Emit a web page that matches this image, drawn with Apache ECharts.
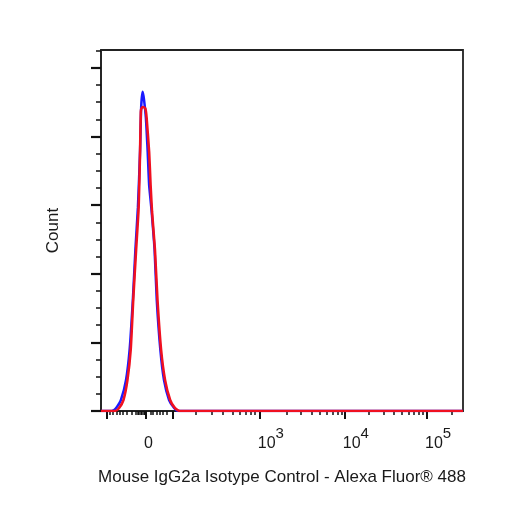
<!DOCTYPE html>
<html>
<head>
<meta charset="utf-8">
<script src="https://cdn.jsdelivr.net/npm/echarts@6/dist/echarts.min.js"></script>
<style>html,body{margin:0;padding:0;background:#fff}#c{width:506px;height:506px}</style>
</head>
<body>
<div id="c"></div>
<script>
// x values are display channels of the biexponential axis (0..1000)
const blueX = [0, 25, 36, 44, 55, 69, 79, 88, 95, 102, 108, 111, 115, 119, 124, 129, 133, 137, 140, 148, 154, 164, 174, 188, 202, 213, 1000];
const blueY = [0, 0, 1.5, 6, 16, 45, 89, 162, 235, 297, 380, 443, 465, 453, 427, 377, 329, 307, 290, 235, 162, 89, 45, 16, 4.4, 0, 0];
const redX = [0, 30, 39, 50, 62, 73, 82, 89, 97, 104, 108, 110, 112, 116, 122, 124, 126, 133, 137, 141, 149, 156, 166, 177, 191, 204, 218, 1000];
const redY = [0, 0, 0, 4.4, 16, 45, 89, 162, 235, 297, 380, 436, 441, 443, 441, 437, 427, 377, 329, 290, 235, 162, 89, 45, 16, 4.4, 0, 0];

const xMajorTicks = [17, 124, 199, 439, 674, 901];
const xMinorTicks = [25, 33, 44, 52, 61, 72, 86, 97, 101, 105, 109, 113, 117, 121, 138, 144, 155, 163, 171, 182,
  262, 307, 337, 365, 384, 401, 414, 425,
  512, 553, 583, 605, 624, 639, 653, 665,
  741, 782, 810, 832, 850, 865, 879, 890, 970];
const xLabelPos = [119, 433, 668, 895];
const xLabelBase = ['0', '10', '10', '10'];
const xLabelExp = ['', '3', '4', '5'];

const yMajorTicks = [0, 100, 200, 300, 400, 500];
const yMinorTicks = [25, 50, 75, 125, 150, 175, 225, 250, 275, 325, 350, 375, 425, 450, 475, 500, 525];

const xTitle = 'Mouse IgG2a Isotype Control - Alexa Fluor® 488';
const yTitle = 'Count';

const FONT = "'Liberation Sans', Arial, sans-serif";
const chart = echarts.init(document.getElementById('c'));
const pairs = (xs, ys) => xs.map((x, i) => [x, ys[i]]);

chart.setOption({
  animation: false,
  grid: { left: 101, top: 50, width: 362, height: 361, show: true, borderColor: '#222', borderWidth: 1.8, backgroundColor: '#fff' },
  xAxis: [
    {
      type: 'value', min: 0, max: 1000, position: 'bottom',
      name: xTitle, nameLocation: 'middle', nameGap: 58,
      nameTextStyle: { fontFamily: FONT, fontSize: 17, color: '#1a1a1a' },
      axisLine: { show: true, lineStyle: { color: '#222', width: 1.5 } },
      axisTick: { show: true, customValues: xMajorTicks, length: 8, lineStyle: { color: '#111', width: 2 } },
      axisLabel: {
        show: true, customValues: xLabelPos, margin: 15, align: 'left',
        formatter: function (v) {
          let best = 0;
          for (let i = 1; i < xLabelPos.length; i++) if (Math.abs(xLabelPos[i] - v) < Math.abs(xLabelPos[best] - v)) best = i;
          return '{b|' + xLabelBase[best] + '}{s|' + (xLabelExp[best] || ' ') + '}';
        },
        rich: {
          b: { fontFamily: FONT, fontSize: 16, color: '#1a1a1a', verticalAlign: 'bottom' },
          s: { fontFamily: FONT, fontSize: 15, color: '#1a1a1a', verticalAlign: 'bottom', padding: [0, 0, 11, 0] }
        }
      },
      splitLine: { show: false }
    },
    {
      type: 'value', min: 0, max: 1000, position: 'bottom',
      axisLine: { show: false },
      axisTick: { show: true, customValues: xMinorTicks, length: 4, lineStyle: { color: '#111', width: 1.5 } },
      axisLabel: { show: false },
      splitLine: { show: false }
    }
  ],
  yAxis: [
    {
      type: 'value', min: 0, max: 526, position: 'left',
      name: yTitle, nameLocation: 'middle', nameGap: 39, nameRotate: 90,
      nameTextStyle: { fontFamily: FONT, fontSize: 17, color: '#1a1a1a' },
      axisLine: { show: true, lineStyle: { color: '#222', width: 1.5 } },
      axisTick: { show: true, customValues: yMajorTicks, length: 10, lineStyle: { color: '#111', width: 2.2 } },
      axisLabel: { show: false },
      splitLine: { show: false }
    },
    {
      type: 'value', min: 0, max: 526, position: 'left',
      axisLine: { show: false },
      axisTick: { show: true, customValues: yMinorTicks, length: 5, lineStyle: { color: '#111', width: 1.5 } },
      axisLabel: { show: false },
      splitLine: { show: false }
    }
  ],
  series: [
    {
      type: 'line', xAxisIndex: 0, yAxisIndex: 0, data: pairs(blueX, blueY),
      showSymbol: false, smooth: 0.2, lineStyle: { color: '#1a1aff', width: 2.5 }, z: 3
    },
    {
      type: 'line', xAxisIndex: 0, yAxisIndex: 0, data: pairs(redX, redY),
      showSymbol: false, smooth: 0.2, lineStyle: { color: '#f01020', width: 2.6 }, z: 4
    }
  ]
});
</script>
</body>
</html>
